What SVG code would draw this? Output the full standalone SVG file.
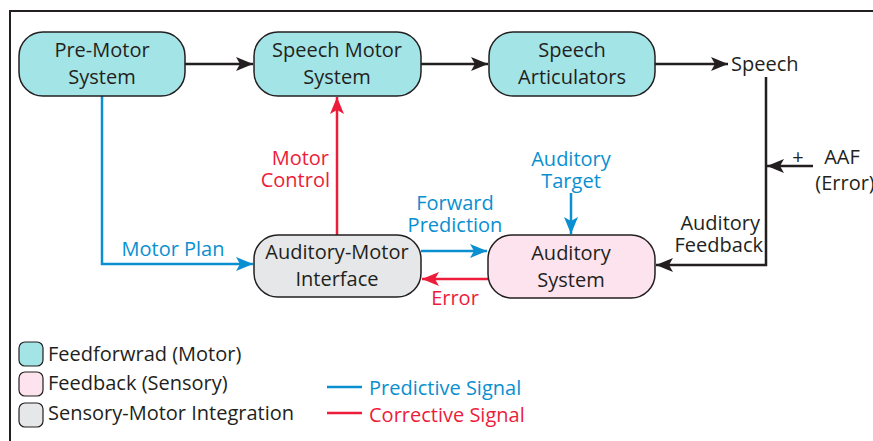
<svg xmlns="http://www.w3.org/2000/svg" width="873" height="441" viewBox="0 0 873 441">
<defs>
<style>
text{font-family:"Open Sans","Noto Sans",sans-serif;font-size:20px;}
.nt{fill:#231f20;text-anchor:middle;}
.bl{fill:#0a8fd0;}
.rd{fill:#ed1c3a;}
.dk{fill:#231f20;}
.node{stroke:#231f20;stroke-width:1.5;}
.ff{fill:#a3e4e7;}
.fb{fill:#fde3ee;}
.sm{fill:#e6e7e8;}
.lk{stroke:#231f20;stroke-width:2.5;fill:none;}
.lb{stroke:#0a8fd0;stroke-width:2.5;fill:none;}
.lr{stroke:#ed1c3a;stroke-width:2.5;fill:none;}
</style>
<marker id="ak" markerUnits="userSpaceOnUse" markerWidth="18" markerHeight="14" refX="17" refY="7" orient="auto"><path d="M0,0 L17,7 L0,14 L4,7 Z" fill="#231f20"/></marker>
<marker id="ab" markerUnits="userSpaceOnUse" markerWidth="18" markerHeight="14" refX="17" refY="7" orient="auto"><path d="M0,0 L17,7 L0,14 L4,7 Z" fill="#0a8fd0"/></marker>
<marker id="ar" markerUnits="userSpaceOnUse" markerWidth="18" markerHeight="14" refX="17" refY="7" orient="auto"><path d="M0,0 L17,7 L0,14 L4,7 Z" fill="#ed1c3a"/></marker>
</defs>
<rect x="0" y="0" width="873" height="441" fill="#ffffff"/>
<path d="M10,441 L10,11 L873,11" stroke="#231f20" stroke-width="2" fill="none"/>

<g id="connectors">
<line class="lk" x1="185" y1="64" x2="253" y2="64" marker-end="url(#ak)"/>
<line class="lk" x1="421" y1="64" x2="488" y2="64" marker-end="url(#ak)"/>
<line class="lk" x1="655" y1="64" x2="728" y2="64" marker-end="url(#ak)"/>
<polyline class="lk" points="766,77 766,265 656,265" marker-end="url(#ak)"/>
<line class="lk" x1="813" y1="166" x2="767" y2="166" marker-end="url(#ak)"/>
<polyline class="lb" points="102,96 102,264 253,264" marker-end="url(#ab)"/>
<line class="lr" x1="337" y1="235" x2="337" y2="97" marker-end="url(#ar)"/>
<line class="lb" x1="421" y1="251" x2="487" y2="251" marker-end="url(#ab)"/>
<line class="lr" x1="488" y1="279" x2="422" y2="279" marker-end="url(#ar)"/>
<line class="lb" x1="571" y1="193" x2="571" y2="234" marker-end="url(#ab)"/>
</g>

<g id="pre-motor">
<rect class="node ff" x="19" y="32" width="166" height="64" rx="24"/>
<text class="nt" x="102" y="57">Pre-Motor</text>
<text class="nt" x="102" y="84">System</text>
</g>
<g id="speech-motor">
<rect class="node ff" x="254" y="32" width="167" height="64" rx="24"/>
<text class="nt" x="337" y="57">Speech Motor</text>
<text class="nt" x="337" y="84">System</text>
</g>
<g id="articulators">
<rect class="node ff" x="489" y="32" width="166" height="64" rx="24"/>
<text class="nt" x="572" y="57">Speech</text>
<text class="nt" x="572" y="84">Articulators</text>
</g>
<g id="speech">
<text class="dk" x="731" y="71">Speech</text>
</g>
<g id="aaf">
<text class="dk" x="798" y="164" text-anchor="middle" font-size="21">+</text>
<text class="dk" x="842" y="164" text-anchor="middle">AAF</text>
<text class="dk" x="845" y="190" text-anchor="middle">(Error)</text>
</g>
<g id="aud-motor">
<rect class="node sm" x="254" y="235" width="167" height="62" rx="24"/>
<text class="nt" x="337" y="259">Auditory-Motor</text>
<text class="nt" x="337" y="286">Interface</text>
</g>
<g id="aud-system">
<rect class="node fb" x="488" y="235" width="167" height="63" rx="24"/>
<text class="nt" x="571" y="260">Auditory</text>
<text class="nt" x="571" y="287">System</text>
</g>

<g id="labels">
<text class="dk" x="760" y="230" text-anchor="end">Auditory</text>
<text class="dk" x="763" y="252" text-anchor="end">Feedback</text>
<text class="bl" x="173" y="256" text-anchor="middle">Motor Plan</text>
<text class="rd" x="329" y="165" text-anchor="end">Motor</text>
<text class="rd" x="330" y="187" text-anchor="end">Control</text>
<text class="bl" x="455" y="210" text-anchor="middle">Forward</text>
<text class="bl" x="455" y="232" text-anchor="middle">Prediction</text>
<text class="rd" x="455" y="305" text-anchor="middle">Error</text>
<text class="bl" x="571" y="166" text-anchor="middle">Auditory</text>
<text class="bl" x="571" y="188" text-anchor="middle">Target</text>
</g>

<g id="legend">
<rect class="ff" x="19" y="342" width="24" height="24" rx="6" stroke="#231f20" stroke-width="1.2"/>
<rect class="fb" x="19" y="372" width="24" height="24" rx="6" stroke="#231f20" stroke-width="1.2"/>
<rect class="sm" x="19" y="403" width="24" height="24" rx="6" stroke="#231f20" stroke-width="1.2"/>
<text class="dk" x="48" y="361" font-size="17.5">Feedforwrad (Motor)</text>
<text class="dk" x="48" y="390" font-size="17.5">Feedback (Sensory)</text>
<text class="dk" x="48" y="420" font-size="17.5">Sensory-Motor Integration</text>
<line class="lb" x1="327" y1="387" x2="362" y2="387"/>
<line class="lr" x1="327" y1="413" x2="362" y2="413"/>
<text class="bl" x="369" y="395" font-size="21">Predictive Signal</text>
<text class="rd" x="369" y="422" font-size="21">Corrective Signal</text>
</g>
</svg>
